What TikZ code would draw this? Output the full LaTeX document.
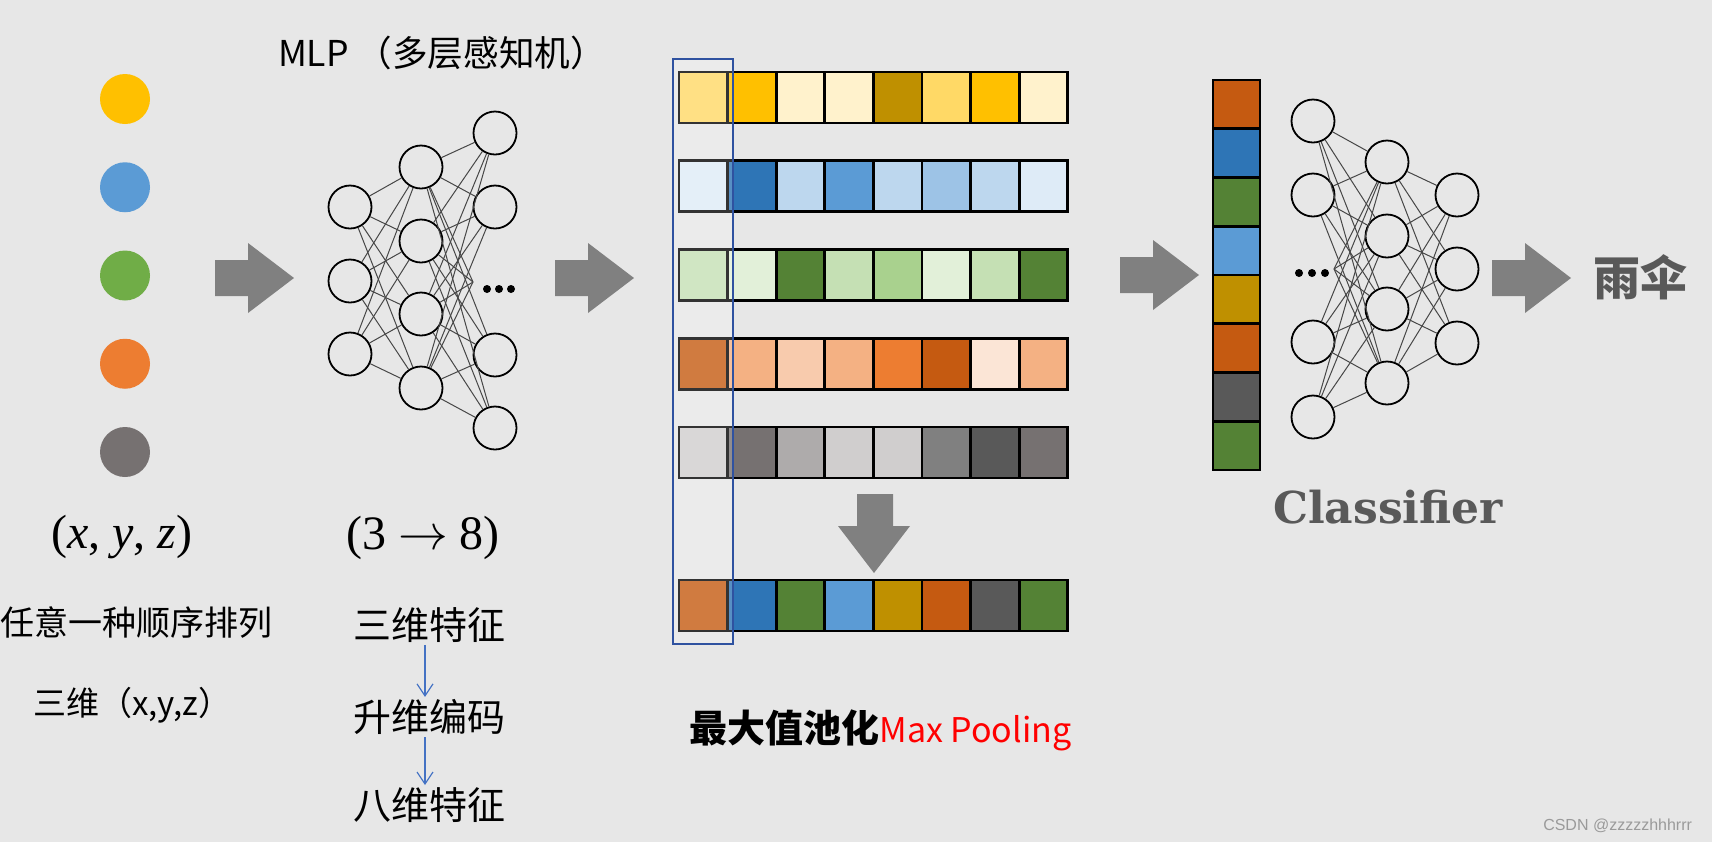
\documentclass[tikz,border=0pt]{standalone}
\usepackage{fontspec}
\usepackage{tikz}
\usetikzlibrary{arrows.meta,positioning}
\newfontfamily\cjk{Noto Sans CJK SC}
\newfontfamily\tnr{Liberation Serif}
\newfontfamily\clsfont{DejaVu Serif}
\newfontfamily\wmfont{Liberation Sans}

\definecolor{bg}{HTML}{E7E7E7}
\definecolor{arrowgray}{HTML}{808080}
\definecolor{panelblue}{HTML}{2F52A0}
\definecolor{stepblue}{HTML}{4472C4}
\definecolor{clsgray}{HTML}{595959}
\definecolor{wmgray}{HTML}{9A9A9A}
\definecolor{maxred}{HTML}{FF0000}
% point colours
\definecolor{ptyellow}{HTML}{FFC000}
\definecolor{ptblue}{HTML}{5B9BD5}
\definecolor{ptgreen}{HTML}{70AD47}
\definecolor{ptorange}{HTML}{ED7D31}
\definecolor{ptgray}{HTML}{767171}
% feature cells
\definecolor{y1}{HTML}{FFC000}\definecolor{y2}{HTML}{FFD966}
\definecolor{y3}{HTML}{FFF2CC}\definecolor{y4}{HTML}{BF9000}
\definecolor{b1}{HTML}{2E75B6}\definecolor{b2}{HTML}{5B9BD5}
\definecolor{b3}{HTML}{9DC3E6}\definecolor{b4}{HTML}{BDD7EE}
\definecolor{b5}{HTML}{DEEBF7}
\definecolor{g1}{HTML}{548235}\definecolor{g2}{HTML}{A9D18E}
\definecolor{g3}{HTML}{C5E0B4}\definecolor{g4}{HTML}{E2F0D9}
\definecolor{o1}{HTML}{C55A11}\definecolor{o2}{HTML}{ED7D31}
\definecolor{o3}{HTML}{F4B183}\definecolor{o4}{HTML}{F8CBAD}
\definecolor{o5}{HTML}{FBE5D6}
\definecolor{k1}{HTML}{595959}\definecolor{k2}{HTML}{767171}
\definecolor{k3}{HTML}{808080}\definecolor{k4}{HTML}{AEABAB}
\definecolor{k5}{HTML}{D0CECE}

\tikzset{
  neuron/.style={circle,draw=black,line width=0.9pt,minimum size=21.5pt,inner sep=0pt},
  wire/.style={draw=black!72,line width=0.5pt},
  cellbox/.style={draw=black,line width=1.4pt},
  blockarr/.style={fill=arrowgray},
  upstep/.style={draw=stepblue,line width=0.6pt,-{Straight Barb[length=6pt,width=8pt]}},
}

\begin{document}
\begin{tikzpicture}[x=0.5pt,y=-0.5pt]
\useasboundingbox (0,0) rectangle (1712,842);
\fill[bg] (0,0) rectangle (1712,842);

% input points
\foreach \c [count=\i] in {ptyellow,ptblue,ptgreen,ptorange,ptgray}
  \fill[\c] (125,{99+88.25*(\i-1)}) circle[radius=12.5pt];

% big gray arrows
\foreach \ax/\ay in {215/278,555/278,1120/275,1492/278}
  \fill[blockarr] (\ax,\ay) ++(0,-18) -- ++(33,0) -- ++(0,-17) -- ++(46,35) -- ++(-46,35) -- ++(0,-17) -- ++(-33,0) -- cycle;
\fill[blockarr] (857,494) -- (893,494) -- (893,526) -- (910,526) -- (874,573) -- (838,526) -- (857,526) -- cycle;

% MLP
\node[font=\cjk\fontsize{17.8}{20}\selectfont] (mlptitle) at (442,53) {MLP （多层感知机）};
\foreach \y [count=\i] in {207,281,354} \node[neuron] (a\i) at (350,\y) {};
\foreach \y [count=\i] in {167,241,314,388} \node[neuron] (b\i) at (421,\y) {};
\foreach \y [count=\i] in {133,207,355,428} \node[neuron] (c\i) at (495,\y) {};
\coordinate (ch) at (473,282);
\foreach \i in {1,2,3} \foreach \j in {1,...,4} \draw[wire] (a\i) -- (b\j);
\foreach \i in {1,...,4} {
  \foreach \j in {1,...,4} \draw[wire] (b\i) -- (c\j);
  \draw[wire] (b\i) -- (ch);
}
\foreach \x in {487,499,511} \fill (\x,289) circle[radius=2pt];

% feature rows + pooled row
\foreach \cols [count=\r] in {{y2,y1,y3,y3,y4,y2,y1,y3},{b5,b1,b4,b2,b4,b3,b4,b5},{g3,g4,g1,g3,g2,g4,g3,g1},{o1,o3,o4,o3,o2,o1,o5,o3},{k5,k2,k4,k5,k5,k3,k1,k2},{o1,b1,g1,b2,y4,o1,k1,g1}} {
  \pgfmathsetmacro\ry{\r<6 ? 72+88.75*(\r-1) : 580}
  \foreach \c [count=\k] in \cols
    \filldraw[cellbox,fill=\c] ({679+48.6*(\k-1)},\ry) rectangle ++(48.6,51);
}
\draw[draw=panelblue,line width=0.75pt,fill=white,fill opacity=0.2] (673,59) rectangle (733,644);
\node[anchor=base west,inner sep=0pt,font=\cjk] (pooltxt) at (689,742) {{\bfseries\fontsize{19}{22}\selectfont 最大值池化}{\color{maxred}\fontsize{17}{20}\selectfont Max Pooling}};

% global feature + classifier
\foreach \c [count=\k] in {o1,b1,g1,b2,y4,o1,k1,g1}
  \filldraw[cellbox,fill=\c] (1213,{80+48.75*(\k-1)}) rectangle ++(47,48.75);
\foreach \y [count=\i] in {121,195,342,417} \node[neuron] (p\i) at (1313,\y) {};
\coordinate (p5) at (1334,269);
\foreach \y [count=\i] in {162,236,309,383} \node[neuron] (q\i) at (1387,\y) {};
\foreach \y [count=\i] in {195,269,343} \node[neuron] (r\i) at (1457,\y) {};
\foreach \i in {1,...,5} \foreach \j in {1,...,4} \draw[wire] (p\i) -- (q\j);
\foreach \i in {1,...,4} \foreach \j in {1,2,3} \draw[wire] (q\i) -- (r\j);
\foreach \x in {1299,1312,1325} \fill (\x,273) circle[radius=2pt];
\node[font=\clsfont\bfseries\fontsize{22}{26}\selectfont,text=clsgray] (clslabel) at (1388,507) {Classifier};
\node[font=\cjk\bfseries\fontsize{23.5}{26}\selectfont,text=clsgray] (umbrella) at (1640,277) {雨伞};

% captions
\node[font=\tnr\fontsize{24}{28}\selectfont] (xyz) at (122,537) {(\textit{x}, \textit{y}, \textit{z})};
\node[font=\tnr\fontsize{24}{28}\selectfont] (dims) at (423,538) {(3 $\rightarrow$ 8)};
\node[font=\cjk\fontsize{17}{20}\selectfont] (order) at (136,622) {任意一种顺序排列};
\node[font=\cjk\fontsize{16.5}{20}\selectfont] (three) at (132,705) {三维（x,y,z）};
\node[font=\cjk\fontsize{19}{22}\selectfont,inner sep=1pt] (f1) at (429,625) {三维特征};
\node[font=\cjk\fontsize{19}{22}\selectfont,inner sep=1pt] (f2) at (429,717) {升维编码};
\node[font=\cjk\fontsize{19}{22}\selectfont,inner sep=1pt] (f3) at (429,805) {八维特征};
\draw[upstep] ([xshift=-2pt]f1.south) -- ([xshift=-2pt]f2.north);
\draw[upstep] ([xshift=-2pt]f2.south) -- ([xshift=-2pt]f3.north);
\node[font=\wmfont\fontsize{8}{10}\selectfont,text=wmgray,anchor=east] (wm) at (1699,826) {CSDN @zzzzzhhhrrr};
\end{tikzpicture}
\end{document}
